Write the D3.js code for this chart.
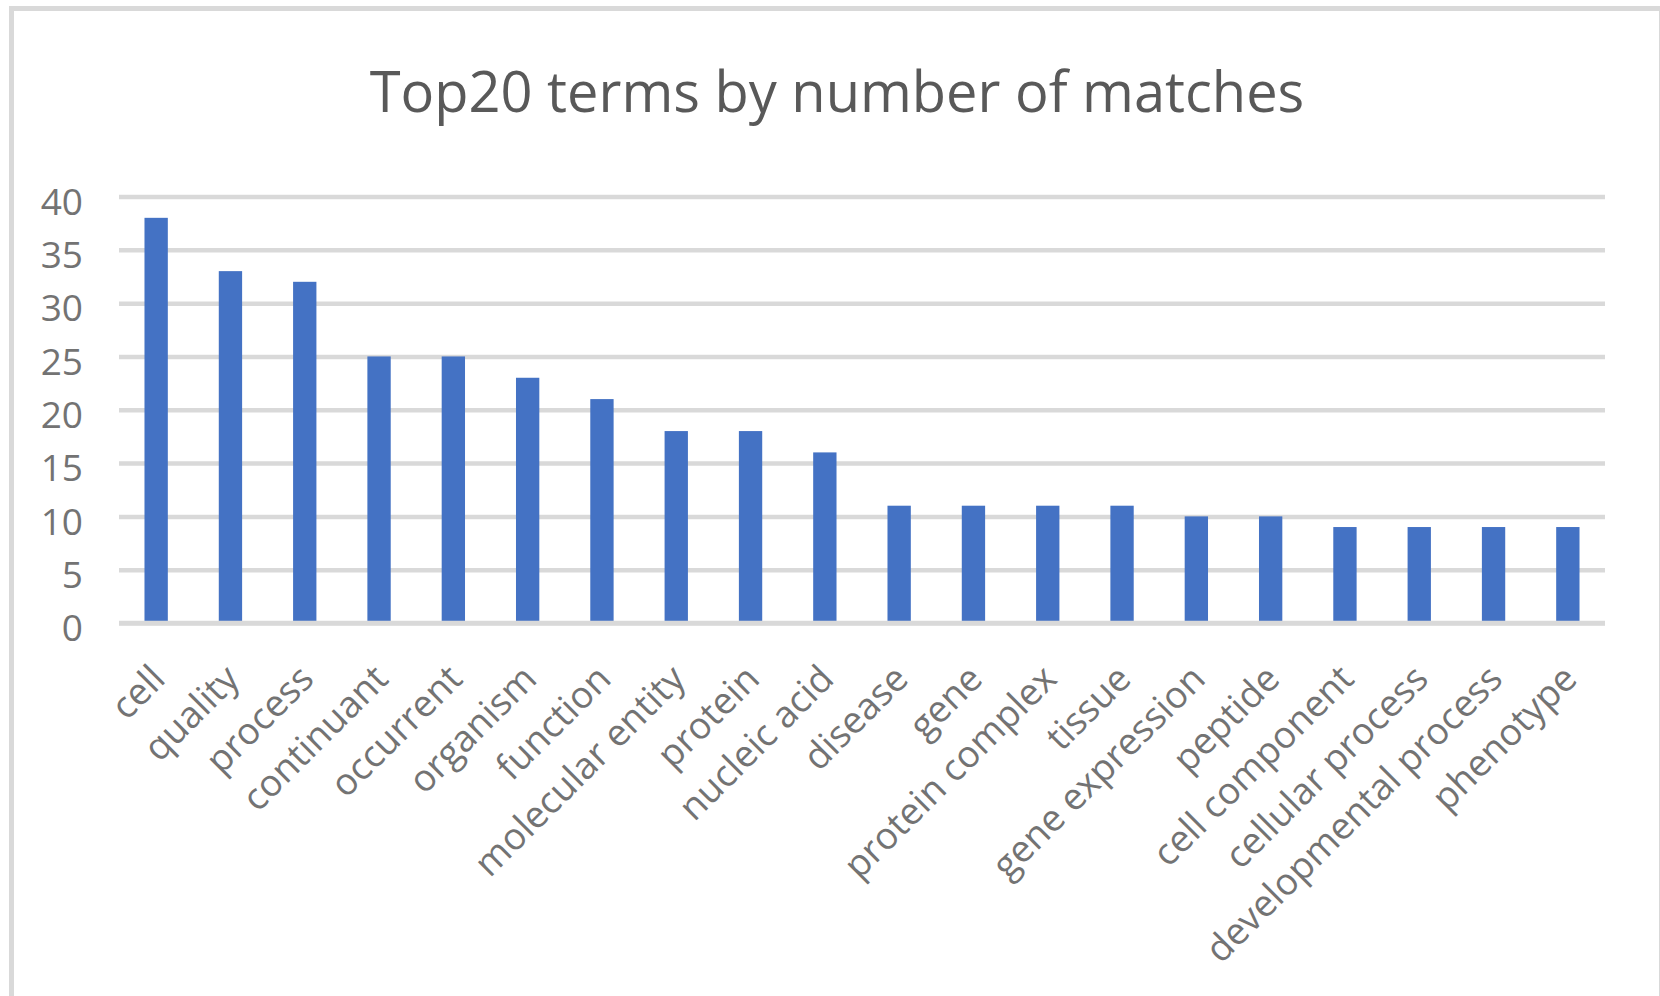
<!DOCTYPE html>
<html>
<head>
<meta charset="utf-8">
<script src="https://cdn.jsdelivr.net/npm/d3@7"></script>
<style>
  body { margin: 0; background: #fff; }
  svg { display: block; }
</style>
</head>
<body>
<div id="chart"></div>
<script>
// ---------------------------//
//       DATA                 //
// ---------------------------//
var terms = ["cell", "quality", "process", "continuant", "occurrent", "organism", "function",
  "molecular entity", "protein", "nucleic acid", "disease", "gene", "protein complex", "tissue",
  "gene expression", "peptide", "cell component", "cellular process", "developmental process", "phenotype"];
var matches = [38, 33, 32, 25, 25, 23, 21, 18, 18, 16, 11, 11, 11, 11, 10, 10, 9, 9, 9, 9];
var yTicks = [0, 5, 10, 15, 20, 25, 30, 35, 40];
var title = "Top20 terms by number of matches";

// set the dimensions of the plot area
var W = 1660, H = 996;
var plotLeft = 119, plotRight = 1605, plotTop = 196.5, plotBottom = 623;

var svg = d3.select("#chart")
  .append("svg")
  .attr("width", W)
  .attr("height", H);

// chart area border (runs off the right and bottom edge)
svg.append("rect")
  .attr("x", 11.5)
  .attr("y", 8.5)
  .attr("width", 1650)
  .attr("height", 1100)
  .attr("fill", "#fff")
  .attr("stroke", "#d9d9d9")
  .attr("stroke-width", 5);

// title
svg.append("text")
  .attr("x", 837)
  .attr("y", 112)
  .attr("text-anchor", "middle")
  .style("font-family", "'Open Sans', sans-serif")
  .style("font-size", "56px")
  .attr("fill", "#595959")
  .text(title);

// ---------------------------//
//       AXIS  AND SCALE      //
// ---------------------------//
var x = d3.scaleBand()
  .domain(terms)
  .range([plotLeft, plotRight])
  .paddingInner(0.686)
  .paddingOuter(0.343);

var y = d3.scaleLinear()
  .domain([0, 40])
  .range([plotBottom, plotTop]);

// gridlines + y labels
var yAxis = svg.append("g")
  .attr("transform", "translate(" + plotLeft + ",0)")
  .call(d3.axisLeft(y).tickValues(yTicks).tickSize(-(plotRight - plotLeft)).tickPadding(36));
yAxis.select(".domain").remove();
yAxis.selectAll(".tick line")
  .attr("stroke", "#d9d9d9")
  .attr("stroke-width", 4.5);
yAxis.selectAll(".tick text")
  .attr("dy", "0.48em")
  .style("font-family", "'Open Sans', sans-serif")
  .style("font-size", "37px")
  .attr("fill", "#737373");

// ---------------------------//
//       BARS                 //
// ---------------------------//
svg.append("g")
  .selectAll("rect")
  .data(matches)
  .enter()
  .append("rect")
    .attr("x", function(d, i) { return x(terms[i]); })
    .attr("y", function(d) { return y(d); })
    .attr("width", x.bandwidth())
    .attr("height", function(d) { return y(0) - y(d); })
    .attr("fill", "#4472c4");

// horizontal axis line on top of the bars
svg.append("line")
  .attr("x1", plotLeft)
  .attr("x2", plotRight)
  .attr("y1", y(0))
  .attr("y2", y(0))
  .attr("stroke", "#d9d9d9")
  .attr("stroke-width", 4.5);

// category labels, rotated
svg.append("g")
  .selectAll("text")
  .data(terms)
  .enter()
  .append("text")
    .attr("transform", function(d) {
      var cx = x(d) + x.bandwidth() / 2;
      return "translate(" + (cx + 11) + "," + (y(0) + 58) + ") rotate(-45)";
    })
    .attr("text-anchor", "end")
    .style("font-family", "'Open Sans', sans-serif")
    .style("font-size", "37px")
    .attr("fill", "#737373")
    .text(function(d) { return d; });
</script>
</body>
</html>
